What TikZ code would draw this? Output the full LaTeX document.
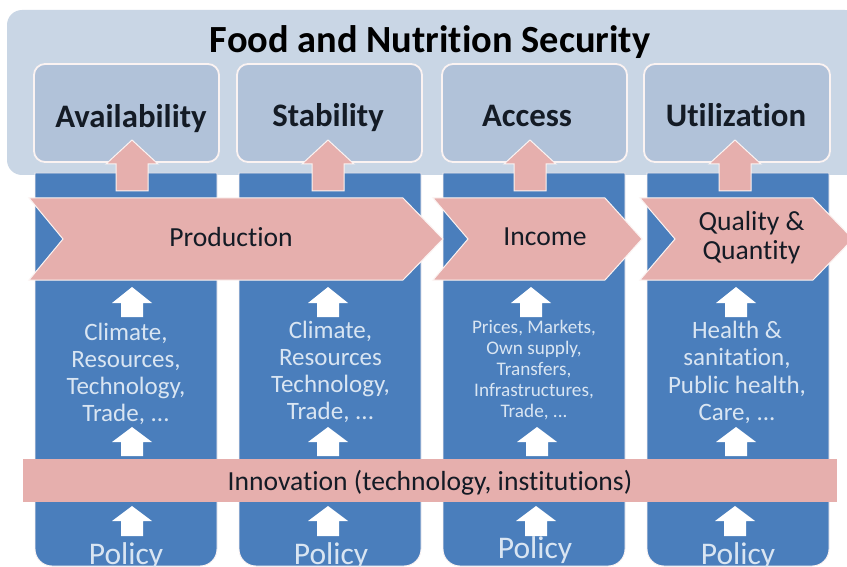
\documentclass[tikz,border=0pt]{standalone}
\usepackage{fontspec}
\setmainfont{Carlito}[Ligatures=CommonOff]
\definecolor{panelc}{HTML}{C9D6E5}
\definecolor{boxc}{HTML}{B1C2D9}
\definecolor{bluec}{HTML}{4A7EBC}
\definecolor{pinkc}{HTML}{E6AFAD}
\definecolor{edgec}{HTML}{FBF3F2}
\definecolor{lighttext}{HTML}{D9E5F2}
\definecolor{darktext}{HTML}{141B25}
\tikzset{
  x=1pt,y=-1pt,
  panelshape/.style={fill=panelc,draw=none},
  pillarbox/.style={fill=boxc,draw=edgec,line width=1.8pt,rounded corners=11pt},
  columnshape/.style={fill=bluec,draw=edgec,line width=0.9pt},
  pinkshape/.style={fill=pinkc,draw=edgec,line width=1pt},
  whitearrow/.style={fill=white,draw=none},
  headtext/.style={font=\fontsize{38.4}{40}\selectfont\bfseries,text=black,inner sep=0pt,anchor=base},
  pillartext/.style={font=\fontsize{32.8}{36}\selectfont\bfseries,text=darktext,inner sep=0pt,anchor=base},
  flowtext/.style={font=\fontsize{27.6}{29}\selectfont,text=darktext,inner sep=0pt,align=center},
  factortext/.style={font=\fontsize{25}{27.2}\selectfont,text=lighttext,inner sep=0pt,align=center},
  smallfactor/.style={font=\fontsize{19.2}{21}\selectfont,text=lighttext,inner sep=0pt,align=center},
  policytext/.style={font=\fontsize{31.5}{34}\selectfont,text=lighttext,inner sep=0pt,anchor=base},
}
% column: left, right
\newcommand{\columnpath}[2]{(#1,173) -- (#2,173) [rounded corners=17pt] -- (#2,566) -- (#1,566) [sharp corners] -- cycle}
% up arrow: centre, half shaft, half head, tip, wing, bottom, style
\newcommand{\uparrowshape}[7]{\draw[#7] ({#1-#2},#6) -- ({#1-#2},#5) -- ({#1-#3},#5) -- (#1,#4) -- ({#1+#3},#5) -- ({#1+#2},#5) -- ({#1+#2},#6) -- cycle;}
\newcommand{\chevronshape}[4]{\draw[pinkshape] (#1,198) -- (#3,198) -- (#4,239) -- (#3,280) -- (#1,280) -- (#2,239) -- cycle;}
\begin{document}
\begin{tikzpicture}
\useasboundingbox (0,0) rectangle (847,567);
\fill[white] (0,0) rectangle (847,567);
% top panel
\path[panelshape,rounded corners=15pt] (860,10) -- (7,10) -- (7,175) -- (860,175) -- cycle;
\fill[white] (847,0) rectangle (870,200);
\node[headtext] (title) at (430,52.5) {Food and Nutrition Security};
% pillars
\draw[pillarbox] (34,64) rectangle (219,162);
\draw[pillarbox] (237,64) rectangle (422,162);
\draw[pillarbox] (442,64) rectangle (627,162);
\draw[pillarbox] (644,64) rectangle (830,162);
\node[pillartext] (availability) at (131,128) {Availability};
\node[pillartext] (stability) at (328,127) {Stability};
\node[pillartext] (access) at (527,127) {Access};
\node[pillartext] (utilization) at (736,127) {Utilization};
% columns
\draw[columnshape] \columnpath{35}{217};
\draw[columnshape] \columnpath{239}{421};
\draw[columnshape] \columnpath{443}{625};
\draw[columnshape] \columnpath{647}{829};
% pink up arrows
\uparrowshape{132}{16}{26}{140}{164}{191}{pinkshape}
\uparrowshape{328}{16}{26}{140}{164}{191}{pinkshape}
\uparrowshape{530}{16}{26}{140}{164}{191}{pinkshape}
\uparrowshape{735}{16}{26}{140}{164}{191}{pinkshape}
% chevrons
\chevronshape{29}{63}{403}{443}
\chevronshape{433}{468}{605}{642}
\chevronshape{640}{675}{813}{853}
\node[flowtext] (production) at (231,237) {Production};
\node[flowtext] (income) at (545,237) {Income};
\node[flowtext] (quality) at (751.5,238) {Quality \&\\Quantity};
% white arrows
\foreach \c/\d in {132/132,328/328,531/537,736/736}{
  \uparrowshape{\c}{11}{20}{287}{303}{317}{whitearrow}
  \uparrowshape{\d}{11}{20}{427}{442}{456}{whitearrow}
}
\foreach \c in {132,328,536,735}{
  \uparrowshape{\c}{11}{20}{506}{521}{536}{whitearrow}
}
% factors
\node[factortext] (f1) at (126,374) {Climate,\\Resources,\\Technology,\\Trade, ...};
\node[factortext] (f2) at (330.5,372) {Climate,\\Resources\\Technology,\\Trade, ...};
\node[smallfactor] (f3) at (534,370) {Prices, Markets,\\Own supply,\\Transfers,\\Infrastructures,\\Trade, ...};
\node[factortext] (f4) at (737,372.5) {Health \&\\sanitation,\\Public health,\\Care, ...};
% innovation band
\path[fill=pinkc] (23,459) rectangle (837,502);
\node[flowtext] (innovation) at (430,482.5) {Innovation (technology, institutions)};
% policy
\begin{scope}
\clip (0,173) rectangle (847,566);
\node[policytext] (p1) at (126,564) {Policy};
\node[policytext] (p2) at (331,564) {Policy};
\node[policytext] (p3) at (535,558) {Policy};
\node[policytext] (p4) at (738,564) {Policy};
\end{scope}
\end{tikzpicture}
\end{document}
